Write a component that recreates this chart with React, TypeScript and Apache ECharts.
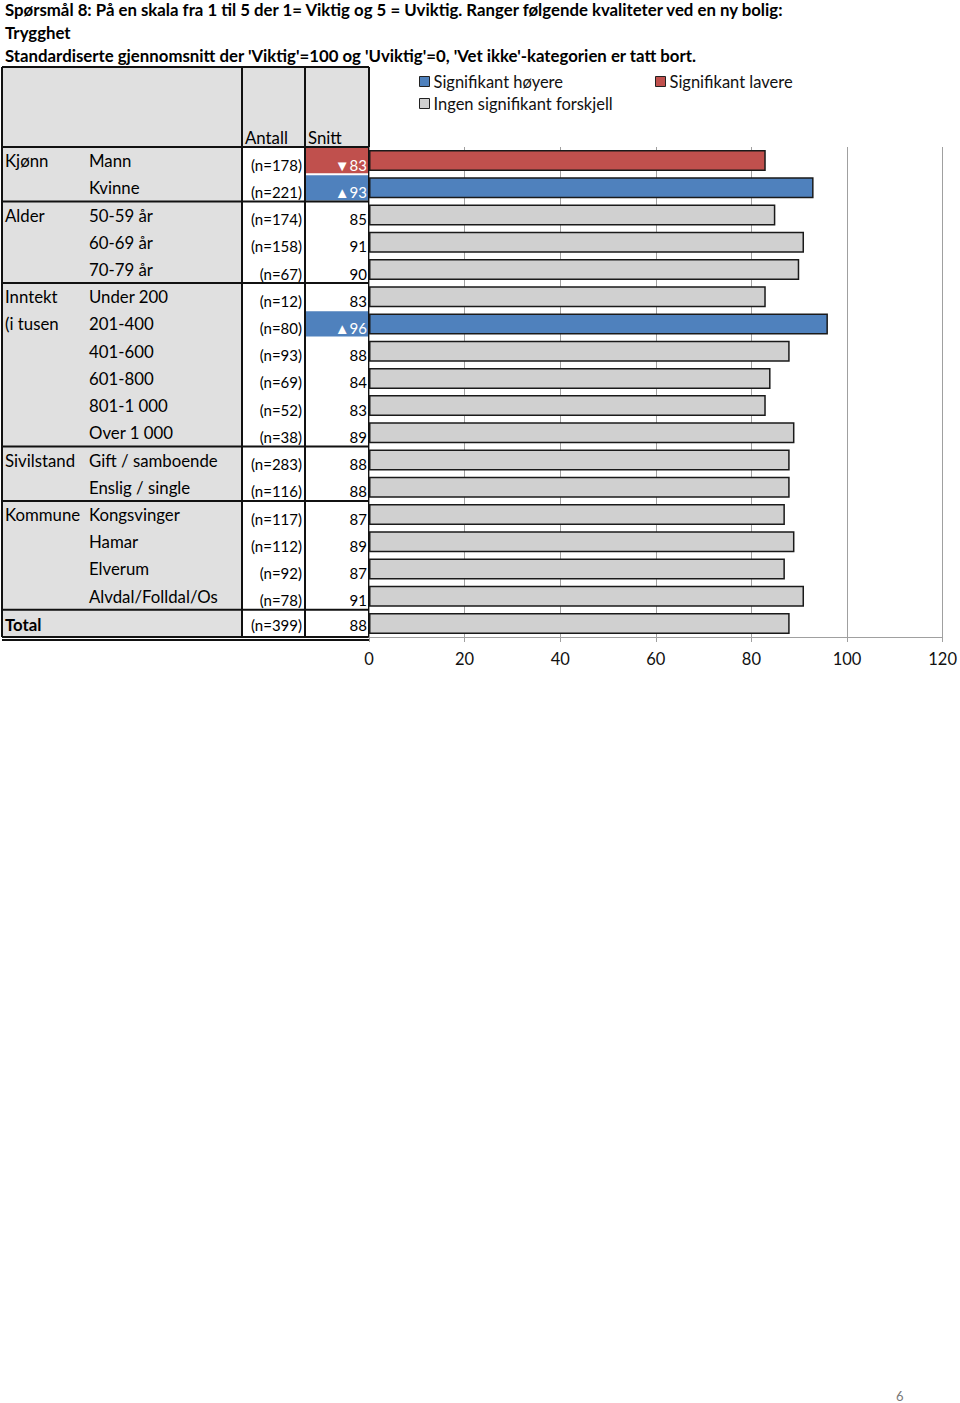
import React, { useEffect, useRef } from "react";
import * as echarts from "echarts";

const titleLines = [
  "Spørsmål 8: På en skala fra 1 til 5 der 1= Viktig og 5 = Uviktig. Ranger følgende kvaliteter ved en ny bolig:",
  "Trygghet",
  "Standardiserte gjennomsnitt der 'Viktig'=100 og 'Uviktig'=0, 'Vet ikke'-kategorien er tatt bort.",
];
const groupLabels = ["Kjønn", "", "Alder", "", "", "Inntekt", "(i tusen", "", "", "", "", "Sivilstand", "", "Kommune", "", "", "", "Total"];
const categories = [
  "Mann", "Kvinne", "50-59 år", "60-69 år", "70-79 år", "Under 200", "201-400", "401-600", "601-800",
  "801-1 000", "Over 1 000", "Gift / samboende", "Enslig / single", "Kongsvinger", "Hamar", "Elverum",
  "Alvdal/Folldal/Os", "",
];
const counts = [178, 221, 174, 158, 67, 12, 80, 93, 69, 52, 38, 283, 116, 117, 112, 92, 78, 399];
const means = [83, 93, 85, 91, 90, 83, 96, 88, 84, 83, 89, 88, 88, 87, 89, 87, 91, 88];
// "H" = significantly higher, "L" = significantly lower, "" = no significant difference
const signif = ["L", "H", "", "", "", "", "H", "", "", "", "", "", "", "", "", "", "", ""];
const groupEnds = [2, 5, 11, 13, 17];
const legendNames = ["Signifikant høyere", "Signifikant lavere", "Ingen signifikant forskjell"];
const axisMin = 0;
const axisMax = 120;
const axisStep = 20;

const FONT = "Lato, 'Noto Sans', sans-serif";
const BLUE = "#4f81bd";
const RED = "#c0504d";
const GRAY = "#d0d0d0";
const HEAD = "#e0e0e0";

const GRID_TOP = 147;
const GRID_BOTTOM_Y = 637;
const X0 = 2, XA = 242, XS = 305, XE = 369;
const HEADER_TOP = 67;

export default function App() {
  const ref = useRef<HTMLDivElement>(null);
  useEffect(() => {
    if (!ref.current) return;
    const chart = echarts.init(ref.current, null, { renderer: "svg" });
    const n = categories.length;
    const rowH = (GRID_BOTTOM_Y - GRID_TOP) / n;
    const cy = (i: number) => GRID_TOP + (i + 0.5) * rowH;
    const txt = { fontFamily: FONT, fontSize: 16.8, fill: "#000" };

    const g: any[] = [];
    // title lines
    titleLines.forEach((t, i) => {
      g.push({ type: "text", x: 5, y: 9.5 + i * 22.8, style: { ...txt, text: t, fontWeight: "bold", verticalAlign: "middle" } });
    });
    // backgrounds
    g.push({ type: "rect", shape: { x: X0, y: HEADER_TOP, width: XE - X0, height: GRID_TOP - HEADER_TOP }, style: { fill: HEAD } });
    g.push({ type: "rect", shape: { x: X0, y: GRID_TOP, width: XA - X0, height: GRID_BOTTOM_Y - GRID_TOP }, style: { fill: HEAD } });
    signif.forEach((s, i) => {
      if (!s) return;
      g.push({
        type: "rect",
        shape: { x: XS + 1, y: GRID_TOP + i * rowH + 1, width: XE - XS - 2, height: rowH - 2 },
        style: { fill: s === "H" ? BLUE : RED },
      });
    });
    // lines
    const line = (x1: number, y1: number, x2: number, y2: number, w = 2) =>
      g.push({ type: "line", shape: { x1, y1, x2, y2 }, style: { stroke: "#111", lineWidth: w } });
    [X0, XA, XS, XE].forEach((x) => line(x, HEADER_TOP, x, GRID_BOTTOM_Y));
    line(X0, HEADER_TOP, XE, HEADER_TOP);
    line(X0, GRID_TOP, XE, GRID_TOP);
    groupEnds.forEach((e) => line(X0, GRID_TOP + e * rowH, XE, GRID_TOP + e * rowH));
    line(X0, GRID_BOTTOM_Y, XE, GRID_BOTTOM_Y);
    line(X0, GRID_BOTTOM_Y + 3, XE, GRID_BOTTOM_Y + 3);
    // header
    g.push({ type: "text", x: 245, y: 137, style: { ...txt, text: "Antall", verticalAlign: "middle" } });
    g.push({ type: "text", x: 308, y: 137, style: { ...txt, text: "Snitt", verticalAlign: "middle" } });
    // rows
    categories.forEach((c, i) => {
      const y = cy(i);
      const isTotal = i === n - 1;
      if (groupLabels[i])
        g.push({ type: "text", x: 5, y: y + (isTotal ? 1 : 0), style: { ...txt, text: groupLabels[i], verticalAlign: "middle", fontWeight: isTotal ? "bold" : "normal" } });
      if (c) g.push({ type: "text", x: 89, y: y, style: { ...txt, text: c, verticalAlign: "middle" } });
      const dy = isTotal ? 1.5 : 4;
      g.push({ type: "text", x: 302, y: y + dy, style: { ...txt, fontSize: 15, text: `(n=${counts[i]})`, align: "right", verticalAlign: "middle" } });
      const s = signif[i];
      const mark = s === "H" ? "▲" : s === "L" ? "▼" : "";
      g.push({
        type: "text", x: 367, y: y + dy,
        style: { ...txt, fontSize: 15, text: mark + means[i], align: "right", verticalAlign: "middle", fill: s ? "#fff" : "#000" },
      });
    });
    g.push({ type: "text", x: 896, y: 1396, style: { fontFamily: FONT, fontSize: 13, fill: "#777", text: "6", verticalAlign: "middle" } });

    const mk = (k: string) => means.map((v, i) => (signif[i] === k ? v : null));
    const barStyle = (color: string) => ({ color, borderColor: "#1a1a1a", borderWidth: 1.5 });
    const legendText = { fontFamily: FONT, fontSize: 16.5, color: "#111", padding: [0, 0, 0, -1] };

    chart.setOption({
      animation: false,
      legend: [
        {
          data: legendNames.slice(0, 2),
          left: 419, top: 73, padding: 0, itemWidth: 10, itemHeight: 10, itemGap: 92,
          icon: "rect",
          textStyle: legendText,
          itemStyle: { borderColor: "#222", borderWidth: 1 },
        },
        {
          data: legendNames.slice(2),
          left: 419, top: 95, padding: 0, itemWidth: 10, itemHeight: 10,
          icon: "rect",
          textStyle: legendText,
          itemStyle: { borderColor: "#222", borderWidth: 1 },
        },
      ],
      grid: { left: XE, right: 960 - 943, top: GRID_TOP, bottom: 1403 - GRID_BOTTOM_Y, containLabel: false },
      xAxis: {
        type: "value",
        min: axisMin, max: axisMax, interval: axisStep,
        axisLine: { show: true, lineStyle: { color: "#a0a0a0", width: 1 } },
        axisTick: { show: true, length: 5, lineStyle: { color: "#a0a0a0" } },
        splitLine: { show: true, lineStyle: { color: "#a0a0a0", width: 1 } },
        axisLabel: { fontFamily: FONT, fontSize: 16.5, color: "#111", margin: 13 },
      },
      yAxis: {
        type: "category",
        inverse: true,
        data: categories.map((c, i) => c || groupLabels[i]),
        axisLabel: { show: false },
        axisTick: { show: false },
        axisLine: { show: false },
      },
      series: [
        { name: legendNames[0], type: "bar", data: mk("H"), barWidth: 21, barGap: "-100%", itemStyle: barStyle(BLUE) },
        { name: legendNames[1], type: "bar", data: mk("L"), barWidth: 21, barGap: "-100%", itemStyle: barStyle(RED) },
        { name: legendNames[2], type: "bar", data: mk(""), barWidth: 21, barGap: "-100%", itemStyle: barStyle(GRAY) },
      ],
      graphic: g,
    });
    return () => chart.dispose();
  }, []);
  return <div ref={ref} style={{ position: "absolute", left: 0, top: 0, width: 960, height: 1403 }} />;
}
